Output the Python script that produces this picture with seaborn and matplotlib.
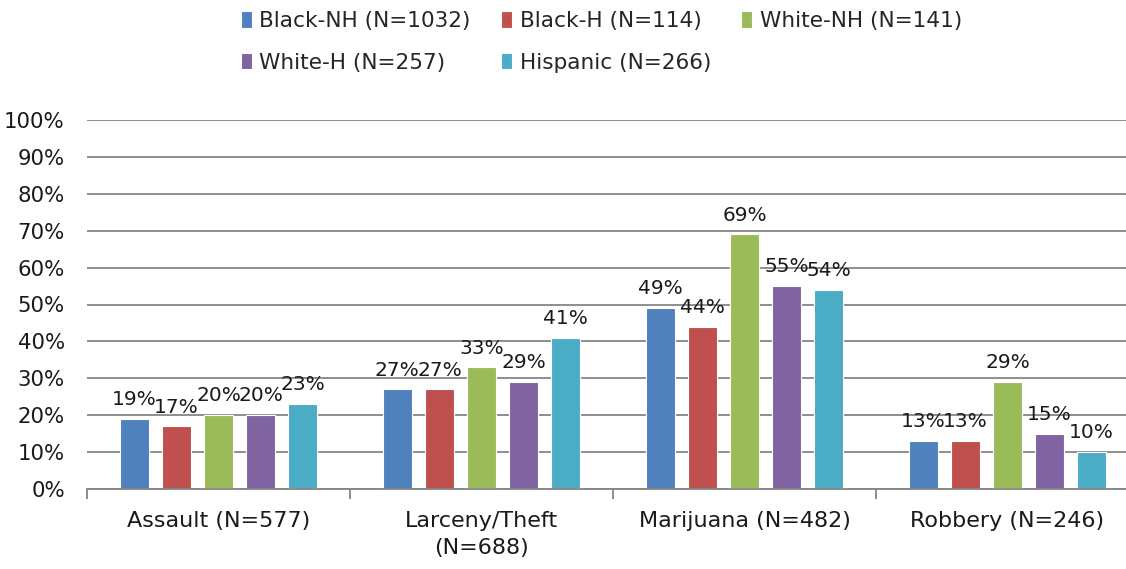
import matplotlib
matplotlib.use("Agg")
import matplotlib.pyplot as plt
import pandas as pd
import seaborn as sns
from matplotlib.ticker import FixedLocator, FuncFormatter

# Data
categories = ["Assault (N=577)", "Larceny/Theft\n(N=688)", "Marijuana (N=482)", "Robbery (N=246)"]
groups = ["Black-NH (N=1032)", "Black-H (N=114)", "White-NH (N=141)", "White-H (N=257)", "Hispanic (N=266)"]
black_nh = [19, 27, 49, 13]
black_h = [17, 27, 44, 13]
white_nh = [20, 33, 69, 29]
white_h = [20, 29, 55, 15]
hispanic = [23, 41, 54, 10]
colors = ["#4F81BD", "#C0504D", "#9BBB59", "#8064A2", "#4BACC6"]

series = [black_nh, black_h, white_nh, white_h, hispanic]
rows = []
for g, vals in zip(groups, series):
    for c, v in zip(categories, vals):
        rows.append({"offense": c, "group": g, "pct": v})
df = pd.DataFrame(rows)

sns.set_style("white")
plt.rcParams["font.family"] = ["DejaVu Sans"]

fig = plt.figure(figsize=(11.26, 5.69), dpi=100)
# axis runs past the right edge like the cropped original
ax = fig.add_axes([87 / 1126, 80 / 569, 1052 / 1126, 369 / 569])

sns.barplot(data=df, x="offense", y="pct", hue="group", order=categories,
            hue_order=groups, palette=colors, width=0.8, gap=0.3,
            saturation=1, ax=ax, legend=True, edgecolor="white", linewidth=0.8)

for cont in ax.containers:
    ax.bar_label(cont, fmt="%d%%", padding=7, fontsize=14.5, color="#1a1a1a")

ax.set_ylim(0, 100)
ax.set_xlim(-0.5, 3.5)
ax.set_yticks(range(0, 101, 10))
ax.yaxis.set_major_formatter(FuncFormatter(lambda v, p: f"{int(v)}%"))
ax.grid(axis="y", color="#868686", linewidth=1.3)
ax.set_axisbelow(True)
ax.tick_params(axis="y", length=0, labelsize=15.3, pad=16, labelcolor="#1a1a1a")
ax.tick_params(axis="x", which="major", length=0, labelsize=16, pad=16, labelcolor="#1a1a1a")
for t in ax.get_xticklabels():
    t.set_linespacing(1.45)
ax.xaxis.set_minor_locator(FixedLocator([-0.5, 0.5, 1.5, 2.5, 3.5]))
ax.tick_params(axis="x", which="minor", bottom=True, length=7, width=1.3,
               color="#868686", direction="out")
ax.set_xlabel("")
ax.set_ylabel("")
for s in ["top", "right", "left"]:
    ax.spines[s].set_visible(False)
ax.spines["bottom"].set_color("#868686")
ax.spines["bottom"].set_linewidth(1.3)

handles, labels = ax.get_legend_handles_labels()
ax.legend_.remove()
# matplotlib fills legend columns first, so reorder to get rows like the original
order = [0, 3, 1, 4, 2]
fig.legend([handles[i] for i in order], [labels[i] for i in order],
           loc="upper left", bbox_to_anchor=(228 / 1126, 1.0 + 2 / 569),
           ncol=3, frameon=False, fontsize=15.6, handlelength=0.5, handleheight=0.8,
           handletextpad=0.35, columnspacing=1.4, labelspacing=1.0, borderaxespad=0.2)

fig.savefig("out.png", dpi=100)
